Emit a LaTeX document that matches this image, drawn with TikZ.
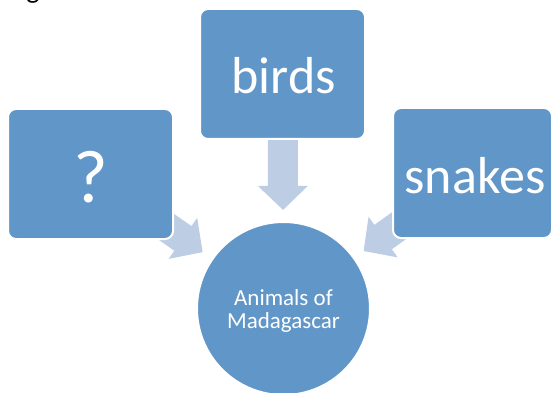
\documentclass[tikz,border=0pt]{standalone}
\usepackage{fontspec}
\setmainfont{Carlito}
\usetikzlibrary{calc}
\definecolor{boxblue}{RGB}{97,150,200}
\definecolor{arrowblue}{RGB}{189,205,228}
\pgfdeclarelayer{background}
\pgfsetlayers{background,main}
\begin{document}
\begin{tikzpicture}[x=1pt,y=-1pt,
  outerbox/.style={rectangle, rounded corners=8pt, fill=boxblue, draw=white, line width=2pt, inner sep=0pt},
  hubcircle/.style={circle, fill=boxblue, draw=white, line width=2pt, inner sep=0pt, minimum size=173pt},
  boxtext/.style={text=white, inner sep=0pt, anchor=base},
  blockarrow/.style={fill=arrowblue, draw=none}]
\useasboundingbox (0,0) rectangle (554,393);
% fragment of a title above the picture
\node[inner sep=0pt, anchor=base, font=\fontsize{28}{32}\selectfont] (frag) at (33,-1.5) {g};
% shapes
\node[outerbox, minimum width=165pt, minimum height=130pt] (q) at (90.5,174) {};
\node[outerbox, minimum width=165pt, minimum height=130pt] (b) at (282.5,74) {};
\node[outerbox, minimum width=159pt, minimum height=130pt] (s) at (472.5,173) {};
\node[hubcircle] (c) at (283.5,308.5) {};
% texts
\node[boxtext, font=\fontsize{75}{80}\selectfont] (qt) at (91,202) {?};
\node[boxtext, font=\fontsize{52}{60}\selectfont] (bt) at (283.5,94) {birds};
\node[boxtext, font=\fontsize{52}{60}\selectfont] (st) at (475,193) {snakes};
\node[text=white, inner sep=0pt, align=center, font=\fontsize{23}{22.5}\selectfont] (ct) at (283.5,311) {Animals of\\Madagascar};
% block arrows behind the shapes
\begin{pgfonlayer}{background}
\foreach \src in {q,b,s}{
  \fill[blockarrow] let \p1=($(c.center)-(\src.center)$), \n1={atan2(\y1,\x1)} in
    [shift={($(c.center)!98.6pt!(\src.center)$)}, rotate=\n1]
    (0,0) -- (-24,25) -- (-24,15) -- (-85,15) -- (-85,-15) -- (-24,-15) -- (-24,-25) -- cycle;
}
\end{pgfonlayer}
\end{tikzpicture}
\end{document}
